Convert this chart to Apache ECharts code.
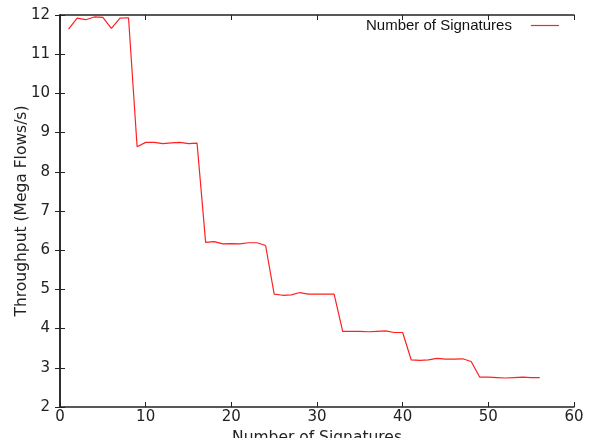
<!DOCTYPE html>
<html>
<head>
<meta charset="utf-8">
<script src="https://cdn.jsdelivr.net/npm/echarts@6/dist/echarts.min.js"></script>
<style>
	html, body { margin: 0; padding: 0; background: #fff; }
	#chart { width: 598px; height: 438px; }
</style>
</head>
<body>
<div id="chart"></div>
<script>
// number of signatures (x) and throughput in mega flows/s (y)
var signatures = [1, 2, 3, 4, 5, 6, 7, 8, 9, 10, 11, 12, 13, 14, 15, 16, 17, 18, 19, 20,
	21, 22, 23, 24, 25, 26, 27, 28, 29, 30, 31, 32, 33, 34, 35, 36, 37, 38, 39, 40,
	41, 42, 43, 44, 45, 46, 47, 48, 49, 50, 51, 52, 53, 54, 55, 56];
var throughput = [11.64, 11.92, 11.88, 11.95, 11.94, 11.66, 11.92, 11.93, 8.64, 8.75,
	8.75, 8.72, 8.74, 8.75, 8.72, 8.73, 6.20, 6.22, 6.16, 6.17,
	6.16, 6.19, 6.19, 6.12, 4.88, 4.85, 4.86, 4.92, 4.88, 4.88,
	4.88, 4.88, 3.93, 3.93, 3.93, 3.92, 3.93, 3.94, 3.90, 3.90,
	3.20, 3.19, 3.20, 3.24, 3.22, 3.22, 3.23, 3.16, 2.76, 2.76,
	2.75, 2.74, 2.75, 2.76, 2.75, 2.75];

var points = [];
for (var i = 0; i < signatures.length; i++) {
	points.push([signatures[i], throughput[i]]);
}

var labelFont = { color: '#222', fontSize: 15.5, fontFamily: 'DejaVu Sans' };
var frameLine = { show: true, lineStyle: { color: '#222', width: 1.5 } };
var tickIn = { show: true, inside: true, length: 5, lineStyle: { color: '#222' } };

var myChart = echarts.init(document.getElementById('chart'));
var option = {
	animation: false,
	backgroundColor: '#fff',
	grid: { left: 60, right: 24, top: 15, bottom: 31, containLabel: false, outerBoundsMode: 'none' },
	legend: {
		data: ['Number of Signatures'],
		left: 361,
		top: 13,
		align: 'right',
		itemWidth: 28,
		itemHeight: 14,
		itemGap: 10,
		itemStyle: { opacity: 0 },
		lineStyle: { width: 1.2 },
		textStyle: { color: '#111', fontSize: 15, fontFamily: 'Liberation Sans', padding: [0, 14, 0, 0] }
	},
	xAxis: [{
		type: 'value',
		min: 0, max: 60, interval: 10,
		name: 'Number of Signatures',
		nameLocation: 'middle',
		nameGap: 23,
		nameMoveOverlap: false,
		nameTextStyle: labelFont,
		axisLine: frameLine,
		axisTick: tickIn,
		axisLabel: { color: '#222', fontSize: 15, fontFamily: 'DejaVu Sans', margin: 3 },
		splitLine: { show: false }
	}, {
		type: 'value',
		position: 'top',
		min: 0, max: 60, interval: 10,
		axisLine: frameLine,
		axisTick: tickIn,
		axisLabel: { show: false },
		splitLine: { show: false }
	}],
	yAxis: [{
		type: 'value',
		min: 2, max: 12, interval: 1,
		name: 'Throughput (Mega Flows/s)',
		nameLocation: 'middle',
		nameGap: 30,
		nameMoveOverlap: false,
		nameTextStyle: labelFont,
		axisLine: frameLine,
		axisTick: tickIn,
		axisLabel: { color: '#222', fontSize: 15, fontFamily: 'DejaVu Sans', margin: 10 },
		splitLine: { show: false }
	}, {
		type: 'value',
		position: 'right',
		min: 2, max: 12, interval: 1,
		axisLine: frameLine,
		axisTick: tickIn,
		axisLabel: { show: false },
		splitLine: { show: false }
	}],
	series: [{
		name: 'Number of Signatures',
		type: 'line',
		data: points,
		showSymbol: false,
		symbol: 'none',
		itemStyle: { color: '#ff2020' },
		lineStyle: { color: '#ff2020', width: 1.2 }
	}]
};
myChart.setOption(option);
</script>
</body>
</html>
